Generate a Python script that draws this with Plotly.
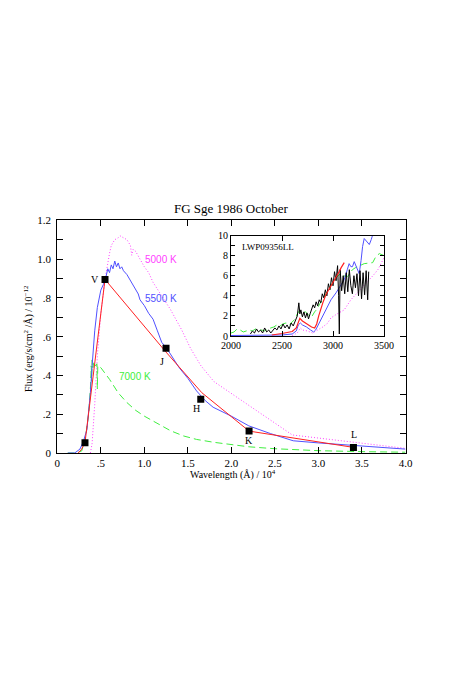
import plotly.graph_objects as go

W, H = 463, 674
OFF = 8  # page body margin shifts the figure by this many pixels

# main panel: wavelength in 10^4 A, flux in 1e-12 erg/s/cm2/A
x_5500 = [0.12, 0.20, 0.26, 0.30, 0.34, 0.38, 0.40, 0.43, 0.46, 0.50, 0.53, 0.56, 0.58, 0.60, 0.62, 0.64,
          0.66, 0.68, 0.70, 0.72, 0.74, 0.76, 0.80, 0.85, 0.90, 0.93, 0.95, 0.97, 1.00, 1.05, 1.10, 1.15,
          1.20, 1.25, 1.30, 1.40, 1.50, 1.60, 1.70, 1.79, 2.00, 2.20, 2.45, 2.71, 3.00, 3.50, 4.00]
y_5500 = [0.0, 0.0, 0.02, 0.06, 0.12, 0.31, 0.45, 0.63, 0.75, 0.84, 0.87, 0.91, 0.95, 0.93, 0.97, 0.95,
          0.99, 0.96, 0.98, 0.95, 0.96, 0.94, 0.92, 0.88, 0.84, 0.82, 0.79, 0.78, 0.76, 0.72, 0.69, 0.63,
          0.57, 0.545, 0.51, 0.44, 0.385, 0.32, 0.27, 0.236, 0.19, 0.14, 0.10, 0.063, 0.052, 0.035, 0.02]

x_5000 = [0.38, 0.40, 0.43, 0.46, 0.50, 0.55, 0.60, 0.62, 0.66, 0.70, 0.72, 0.76, 0.80, 0.84, 0.855,
          0.87, 0.90, 0.95, 1.00, 1.05, 1.10, 1.20, 1.30, 1.43, 1.53, 1.65, 1.80, 2.70, 4.00]
y_5000 = [0.0, 0.05, 0.25, 0.50, 0.72, 0.90, 1.03, 1.07, 1.10, 1.11, 1.12, 1.11, 1.10, 1.07, 1.02,
          1.05, 1.04, 1.00, 0.96, 0.93, 0.88, 0.81, 0.74, 0.634, 0.54, 0.45, 0.368, 0.093, 0.024]

x_7000 = [0.12, 0.20, 0.28, 0.30, 0.33, 0.36, 0.38, 0.39, 0.395, 0.40, 0.41, 0.42, 0.44, 0.455, 0.46,
          0.465, 0.50, 0.55, 0.60, 0.70, 0.80, 0.90, 1.00, 1.10, 1.20, 1.30, 1.45, 1.60, 1.80, 2.00,
          2.20, 2.50, 3.00, 3.50, 4.00]
y_7000 = [0.0, 0.0, 0.01, 0.04, 0.10, 0.20, 0.33, 0.45, 0.37, 0.48, 0.44, 0.47, 0.45, 0.46, 0.33,
          0.45, 0.44, 0.41, 0.38, 0.31, 0.26, 0.22, 0.19, 0.165, 0.14, 0.115, 0.088, 0.07, 0.055, 0.042,
          0.032, 0.022, 0.012, 0.007, 0.004]

x_fit = [0.24, 0.28, 0.318, 0.548, 1.24, 1.66, 2.203, 3.402]
y_fit = [0.0, 0.02, 0.053, 0.895, 0.525, 0.311, 0.113, 0.029]

phot_x = [0.318, 0.548, 1.249, 1.648, 2.203, 3.402]
phot_y = [0.053, 0.895, 0.540, 0.277, 0.113, 0.029]
band_names = ["V", "J", "H", "K", "L"]
band_x = [0.434, 1.20, 1.602, 2.203, 3.41]
band_y = [0.895, 0.47, 0.23, 0.062, 0.096]

# inset: IUE LWP spectrum, wavelength in A
lwp_x = [2190, 2210, 2230, 2250, 2270, 2290, 2310, 2330, 2350, 2370, 2390, 2410, 2430, 2450, 2470,
         2490, 2510, 2530, 2550, 2570, 2590, 2610, 2630, 2650, 2665, 2675, 2685, 2700, 2715, 2730,
         2745, 2760, 2775, 2790, 2805, 2820, 2835, 2850, 2865, 2880, 2895, 2910, 2925, 2940, 2955,
         2970, 2985, 3000, 3015, 3030, 3045, 3055, 3062, 3070, 3085, 3100, 3115, 3130, 3145, 3160,
         3175, 3190, 3205, 3220, 3235, 3250, 3265, 3280, 3295, 3310, 3325, 3340, 3350]
lwp_y = [0.2, 0.5, 0.3, 0.7, 0.4, 0.6, 0.3, 0.8, 0.4, 0.6, 0.3, 0.5, 0.8, 0.6, 1.0,
         0.7, 1.2, 0.8, 1.1, 0.7, 1.3, 1.0, 1.6, 2.0, 3.3, 2.2, 2.6, 1.9, 2.4, 1.8,
         2.3, 1.7, 2.2, 2.6, 3.1, 2.8, 3.4, 3.0, 3.6, 3.3, 4.2, 3.8, 4.6, 4.0, 5.2,
         4.6, 5.8, 5.0, 6.4, 5.5, 7.0, 4.0, 0.2, 6.6, 4.5, 6.0, 4.2, 6.3, 4.4, 6.6,
         5.0, 4.2, 6.0, 4.8, 6.2, 4.0, 6.5, 3.7, 6.3, 4.1, 6.5, 3.6, 6.4]

ins_fit_x = [2400, 2450, 2500, 2550, 2600, 2640, 2660, 2675, 2700, 2730, 2760, 2790, 2820, 2840,
             2860, 2880, 2900, 2930, 2960, 2980, 3000, 3030, 3060, 3080, 3110]
ins_fit_y = [0.1, 0.15, 0.25, 0.35, 0.45, 0.8, 1.4, 1.75, 1.5, 1.3, 1.1, 0.9, 0.8, 1.2,
             2.0, 2.7, 3.3, 4.1, 4.6, 5.0, 5.3, 5.9, 6.4, 6.8, 7.3]

ins_5500_x = [2000, 2200, 2400, 2500, 2600, 2640, 2660, 2680, 2700, 2740, 2780, 2810, 2830, 2860,
              2880, 2920, 2980, 3030, 3076, 3110, 3140, 3158, 3175, 3191, 3208, 3230, 3257, 3275,
              3290, 3306, 3330, 3356, 3375, 3390, 3420]
ins_5500_y = [0.05, 0.05, 0.05, 0.1, 0.2, 0.5, 1.1, 1.3, 1.1, 0.9, 0.6, 0.4, 0.6, 1.2,
              1.6, 2.5, 3.6, 4.3, 5.1, 5.6, 6.6, 7.2, 6.9, 6.9, 7.4, 6.8, 6.2, 7.5,
              8.9, 9.7, 9.4, 9.1, 9.6, 10.1, 10.6]

ins_7000_x = [2000, 2030, 2060, 2090, 2120, 2150, 2180, 2210, 2240, 2270, 2300, 2330, 2360, 2390,
              2420, 2450, 2480, 2510, 2540, 2570, 2600, 2630, 2650, 2670, 2700, 2730, 2760, 2790,
              2820, 2845, 2870, 2900, 2930, 2960, 2990, 3020, 3050, 3076, 3100, 3142, 3175, 3191,
              3220, 3260, 3306, 3389, 3420, 3454, 3487, 3500]
ins_7000_y = [0.3, 0.4, 0.7, 0.6, 0.4, 0.5, 0.6, 0.5, 0.7, 0.5, 0.6, 0.5, 0.7, 0.8,
              0.9, 1.1, 1.0, 1.2, 1.3, 1.1, 1.4, 1.7, 2.2, 2.5, 2.3, 2.4, 2.1, 1.9,
              2.4, 2.7, 3.2, 3.6, 4.2, 4.7, 5.1, 5.7, 6.0, 6.2, 6.0, 5.9, 6.4, 6.6,
              6.8, 7.0, 7.2, 7.3, 7.9, 8.2, 8.1, 8.0]

ins_5000_x = [2600, 2650, 2680, 2700, 2750, 2800, 2850, 2900, 2945, 2980, 3040, 3110, 3175, 3240,
              3300, 3340, 3400, 3440, 3490, 3500]
ins_5000_y = [0.05, 0.3, 0.8, 0.6, 0.5, 0.3, 0.6, 0.9, 1.26, 1.8, 2.2, 2.6, 3.6, 4.3,
              5.0, 5.4, 6.1, 6.6, 7.6, 7.8]

RED, BLUE, GREEN, MAG = "#ff2020", "#5050ff", "#40ee40", "#ff40ff"
DOT = "1px,2px"
DASH = "7px,4px"


def px(x):
    return (x - OFF) / W


def py(y):
    return (H - (y - OFF)) / H


fig = go.Figure()

# main panel
fig.add_trace(go.Scatter(x=x_5000, y=y_5000, mode="lines", line=dict(color=MAG, width=1, dash=DOT)))
fig.add_trace(go.Scatter(x=x_7000, y=y_7000, mode="lines", line=dict(color=GREEN, width=1, dash=DASH)))
fig.add_trace(go.Scatter(x=x_5500, y=y_5500, mode="lines", line=dict(color=BLUE, width=1)))
fig.add_trace(go.Scatter(x=x_fit, y=y_fit, mode="lines", line=dict(color=RED, width=1)))
fig.add_trace(go.Scatter(x=phot_x, y=phot_y, mode="markers",
                         marker=dict(symbol="square", size=7, color="black")))

# inset
fig.add_trace(go.Scatter(x=ins_5000_x, y=ins_5000_y, mode="lines", xaxis="x2", yaxis="y2",
                         line=dict(color=MAG, width=1, dash=DOT)))
fig.add_trace(go.Scatter(x=ins_7000_x, y=ins_7000_y, mode="lines", xaxis="x2", yaxis="y2",
                         line=dict(color=GREEN, width=1, dash=DASH)))
fig.add_trace(go.Scatter(x=ins_5500_x, y=ins_5500_y, mode="lines", xaxis="x2", yaxis="y2",
                         line=dict(color=BLUE, width=1)))
fig.add_trace(go.Scatter(x=lwp_x, y=lwp_y, mode="lines", xaxis="x2", yaxis="y2",
                         line=dict(color="black", width=1)))
fig.add_trace(go.Scatter(x=ins_fit_x, y=ins_fit_y, mode="lines", xaxis="x2", yaxis="y2",
                         line=dict(color=RED, width=1.2)))

serif = "Liberation Serif"
sans = "Liberation Sans"
mid = dict(xanchor="center", yanchor="middle", showarrow=False)

ann = []
for name, bx, by in zip(band_names, band_x, band_y):
    ann.append(dict(x=bx, y=by, xref="x", yref="y", text=name,
                    font=dict(family=serif, size=10, color="black"), **mid))
for txt, tx, ty, col in [("5000 K", 1.19, 0.998, MAG), ("5500 K", 1.19, 0.797, BLUE),
                         ("7000 K", 0.893, 0.397, GREEN)]:
    ann.append(dict(x=tx, y=ty, xref="x", yref="y", text=txt,
                    font=dict(family=sans, size=10, color=col), **mid))
ann.append(dict(x=2362, y=8.83, xref="x2", yref="y2", text="LWP09356LL",
                font=dict(family=serif, size=9, color="black"), **mid))
ann.append(dict(x=px(231.4), y=py(208), xref="paper", yref="paper", text="FG Sge 1986 October",
                font=dict(family=serif, size=13, color="black"), **mid))
ann.append(dict(x=px(233), y=py(474), xref="paper", yref="paper",
                text="Wavelength (Å) / 10<sup>4</sup>",
                font=dict(family=serif, size=10, color="black"), **mid))
ann.append(dict(x=px(28), y=py(339), xref="paper", yref="paper", textangle=-90,
                text="Flux (erg/s/cm<sup>2</sup> /Å) / 10<sup>−12</sup>",
                font=dict(family=serif, size=10, color="black"), **mid))

y_ticks = [round(0.1 * i, 1) for i in range(13)]
y_text = ["0", "", ".2", "", ".4", "", ".6", "", ".8", "", "1.0", "", "1.2"]
x_ticks = [0, 0.5, 1.0, 1.5, 2.0, 2.5, 3.0, 3.5, 4.0]
x_text = ["0", ".5", "1.0", "1.5", "2.0", "2.5", "3.0", "3.5", "4.0"]

ax_common = dict(showline=True, linecolor="black", linewidth=1, mirror="ticks", ticks="inside",
                 tickcolor="black", showgrid=False, zeroline=False, automargin=False,
                 tickfont=dict(family=serif, size=11, color="black"))
small_font = dict(family=serif, size=10, color="black")

fig.update_layout(
    width=W, height=H, margin=dict(l=0, r=0, t=0, b=0),
    paper_bgcolor="white", plot_bgcolor="white", showlegend=False,
    xaxis=dict(domain=[px(57.3), px(405.5)], range=[0, 4], anchor="y",
               tickvals=x_ticks, ticktext=x_text, ticklen=6, **ax_common),
    yaxis=dict(domain=[py(453), py(220.3)], range=[0, 1.2], anchor="x",
               tickvals=y_ticks, ticktext=y_text, ticklen=6, ticklabelstandoff=3, **ax_common),
    xaxis2=dict(domain=[px(231), px(384)], range=[2000, 3500], anchor="y2",
                tickvals=[2000, 2500, 3000, 3500], ticklen=5,
                **{**ax_common, "tickfont": small_font}),
    yaxis2=dict(domain=[py(336), py(235.5)], range=[0, 10], anchor="x2",
                tickvals=list(range(11)), ticktext=["0", "", "2", "", "4", "", "6", "", "8", "", "10"],
                ticklen=4, **{**ax_common, "tickfont": small_font}),
    annotations=ann,
)

fig.write_html("out.html")
